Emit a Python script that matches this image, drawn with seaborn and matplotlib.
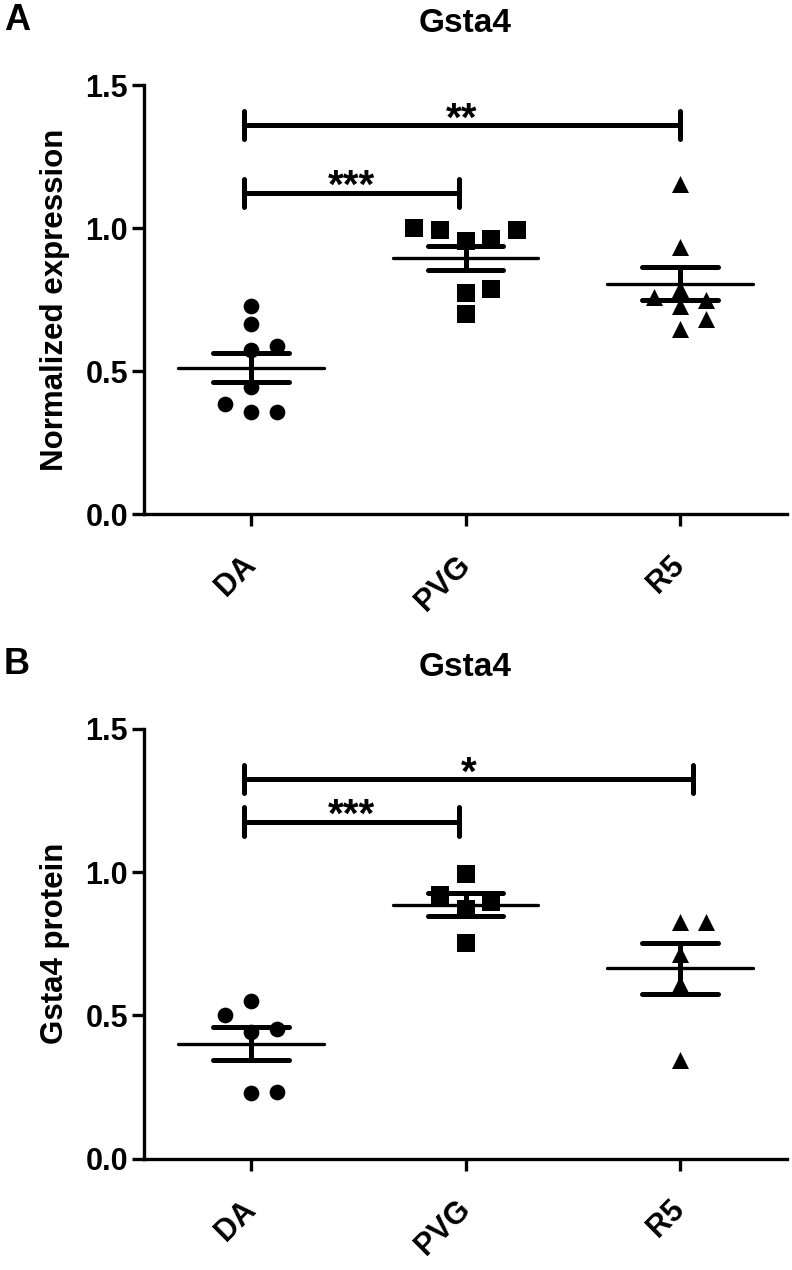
import numpy as np
import pandas as pd
import matplotlib
matplotlib.use("Agg")
import matplotlib.pyplot as plt
import seaborn as sns

# ---------------- data ----------------
groups = ["DA", "PVG", "R5"]
markers = ["o", "s", "^"]

a_da = [0.726, 0.665, 0.586, 0.572, 0.444, 0.386, 0.357, 0.357]
a_pvg = [0.999, 0.993, 0.993, 0.962, 0.956, 0.785, 0.773, 0.700]
a_r5 = [1.153, 0.935, 0.787, 0.758, 0.749, 0.727, 0.683, 0.648]

b_da = [0.551, 0.501, 0.454, 0.443, 0.233, 0.228]
b_pvg = [0.995, 0.920, 0.895, 0.870, 0.753]
b_r5 = [0.826, 0.826, 0.716, 0.611, 0.344]

panel_labels = ["A", "B"]
titles = ["Gsta4", "Gsta4"]
ylabels = ["Normalized expression", "Gsta4 protein"]
yticks = [0.0, 0.5, 1.0, 1.5]
a_sig = [("DA", "PVG", "***"), ("DA", "R5", "**")]
b_sig = [("DA", "PVG", "***"), ("DA", "R5", "*")]

# ---------------- style ----------------
sns.set_theme(style="ticks")
plt.rcParams["font.family"] = ["Liberation Sans", "DejaVu Sans"]
plt.rcParams["font.weight"] = "bold"
for key in ("text.color", "axes.labelcolor", "xtick.color", "ytick.color",
            "axes.edgecolor"):
    plt.rcParams[key] = "black"

FS = 22
fig = plt.figure(figsize=(7.92, 12.70), dpi=100)
W, H = 792, 1270
axA = fig.add_axes([144 / W, 1 - 514 / H, 643 / W, 429 / H])
axB = fig.add_axes([144 / W, 1 - 1158.6 / H, 643 / W, 429.6 / H])


def swarm_offsets(vals, slot=0.12, hy=0.058):
    vals = np.asarray(vals)
    order = np.argsort(vals, kind="stable")
    placed = []
    offs = np.zeros(len(vals))
    cands = [0, 1, -1, 2, -2, 3, -3]
    for i in order:
        y = vals[i]
        for c in cands:
            if all(not (pc == c and abs(py - y) < hy) for pc, py in placed):
                offs[i] = c * slot
                placed.append((c, y))
                break
    return offs


marker_sizes = {"o": 128, "s": 150, "^": 150}


def draw_panel(ax, data, sig, sig_levels, right_caps, ylabel):
    for i, (g, vals, mk) in enumerate(zip(groups, data, markers)):
        df = pd.DataFrame({"x": i + swarm_offsets(vals), "value": vals})
        sns.scatterplot(data=df, x="x", y="value", marker=mk, color="black",
                        s=marker_sizes[mk], linewidth=0, legend=False, ax=ax,
                        zorder=4, clip_on=False)
        v = np.asarray(vals)
        m = v.mean()
        se = v.std(ddof=1) / np.sqrt(len(v))
        ax.plot([i - 0.34, i + 0.34], [m, m], color="black", lw=2.4,
                solid_capstyle="round", zorder=5)
        for yy in (m - se, m + se):
            ax.plot([i - 0.177, i + 0.177], [yy, yy], color="black", lw=3.6,
                    solid_capstyle="round", zorder=5)
        ax.plot([i, i], [m - se, m + se], color="black", lw=3.6, zorder=5)

    # significance brackets
    for (g1, g2, stars), lev, rc in zip(sig, sig_levels, right_caps):
        x1 = groups.index(g1) - 0.033
        x2 = groups.index(g2) + rc
        ax.plot([x1, x2], [lev, lev], color="black", lw=3.6,
                solid_capstyle="round", zorder=5, clip_on=False)
        for xx in (x1, x2):
            ax.plot([xx, xx], [lev - 0.049, lev + 0.049], color="black",
                    lw=3.6, solid_capstyle="round", zorder=5, clip_on=False)
        ax.text((x1 + x2) / 2, lev - 0.02, stars, ha="center", va="baseline",
                fontsize=29, fontweight="bold")

    ax.set_xlim(-0.5, 2.5)
    ax.set_ylim(0, 1.5)
    ax.set_yticks(yticks)
    ax.set_yticklabels([f"{t:.1f}" for t in yticks], fontsize=FS,
                       fontweight="bold")
    ax.set_xticks(range(len(groups)))
    ax.set_xticklabels(groups, fontsize=FS, fontweight="bold")
    ax.set_xlabel("")
    ax.set_ylabel(ylabel, fontsize=22.5, fontweight="bold")
    ax.yaxis.set_label_coords(-0.138, 0.5)
    ax.yaxis.label.set_va("center")
    for sp in ("top", "right"):
        ax.spines[sp].set_visible(False)
    for sp in ("left", "bottom"):
        ax.spines[sp].set_linewidth(2.4)
    ax.tick_params(axis="y", length=8.6, width=2.4, pad=3, color="black")
    ax.tick_params(axis="x", length=8.6, width=2.4, pad=25, color="black")
    for lab in ax.get_xticklabels():
        lab.set_rotation(45)
        lab.set_rotation_mode("anchor")
        lab.set_ha("right")
        lab.set_va("center")
    ax.set_facecolor("white")


draw_panel(axA, [a_da, a_pvg, a_r5], a_sig, [1.124, 1.360], [-0.028, 0.0],
           ylabels[0])
draw_panel(axB, [b_da, b_pvg, b_r5], b_sig, [1.177, 1.325], [-0.028, 0.06],
           ylabels[1])

# titles and panel letters
fig.text(465 / W, 1 - 24 / H, titles[0], ha="center", va="center",
         fontsize=24, fontweight="bold")
fig.text(465 / W, 1 - 667 / H, titles[1], ha="center", va="center",
         fontsize=24, fontweight="bold")
fig.text(17 / W, 1 - 20 / H, panel_labels[0], ha="center", va="center",
         fontsize=26, fontweight="bold")
fig.text(17 / W, 1 - 665 / H, panel_labels[1], ha="center", va="center",
         fontsize=26, fontweight="bold")

fig.savefig("out.png", dpi=100, facecolor="white")
